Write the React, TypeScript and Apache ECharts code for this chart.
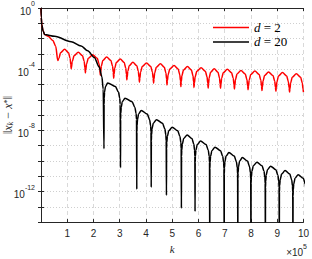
import { useEffect, useRef } from 'react';
import * as echarts from 'echarts';

// ---- data (k in units of 1e5, values as log10 exponents) ----
const xTickLabels = ['', '1', '2', '3', '4', '5', '6', '7', '8', '9', '10'];
const yLabelExponents = [0, -4, -8, -12];

// d = 2 (red)
const redHeadK = [0, 0.01, 0.03, 0.08, 0.14, 0.27, 0.45, 0.56];
const redHeadE = [0, -0.6, -1.1, -1.5, -1.74, -1.85, -2.12, -2.5];
const redDipK = [0.64, 1.15, 1.69, 2.26, 2.77, 3.27, 3.75, 4.29, 4.8, 5.33, 5.83, 6.37, 6.84, 7.37, 7.89, 8.42, 8.95, 9.47, 10.0];
const redDipE = [-3.44, -3.97, -4.25, -4.4, -4.6, -4.7, -4.85, -4.92, -5.03, -5.14, -5.2, -5.25, -5.25, -5.3, -5.35, -5.4, -5.45, -5.5, -5.5];
const redPeakK = [0.9, 1.42, 1.97, 2.5, 3.02, 3.5, 4.02, 4.55, 5.07, 5.58, 6.1, 6.6, 7.1, 7.62, 8.15, 8.67, 9.2, 9.73];
const redPeakE = [-2.7, -2.9, -3.06, -3.2, -3.33, -3.55, -3.6, -3.65, -3.76, -3.82, -3.9, -3.97, -4.01, -4.08, -4.12, -4.18, -4.22, -4.3];

// d = 20 (black)
const blackHeadK = [0, 0.01, 0.03, 0.08, 0.14, 0.52, 1.15, 1.53, 1.78, 2.03, 2.22, 2.32, 2.37];
const blackHeadE = [0, -0.6, -1.1, -1.5, -1.74, -1.85, -2.2, -2.48, -2.8, -3.23, -3.86, -4.5, -5.3];
const blackDipK = [2.4, 3.03, 3.65, 4.2, 4.78, 5.35, 5.87, 6.43, 6.98, 7.5, 8.0, 8.55, 9.08, 9.6, 10.12];
const blackDipE = [-9.2, -10.45, -11.85, -11.72, -12.25, -13.1, -13.3, -16, -16, -16, -16, -16, -16, -16, -16];
const blackPeakK = [2.54, 3.2, 3.82, 4.4, 5.0, 5.57, 6.08, 6.63, 7.16, 7.67, 8.23, 8.75, 9.3, 9.8];
const blackPeakE = [-4.9, -5.9, -6.7, -7.3, -7.8, -8.3, -8.7, -9.1, -9.45, -9.78, -10.08, -10.34, -10.63, -10.9];

// shape of one half-arch next to a dip
// (fraction of the dip-to-peak distance, decades below the peak)
const archU = [0.024, 0.06, 0.16, 0.4];
const archDrop = [1.4, 1.0, 0.6, 0.23];

function build(headK: number[], headE: number[], dipK: number[], dipE: number[], peakK: number[], peakE: number[]) {
  const pts: [number, number][] = [];
  headK.forEach((k, i) => pts.push([k, Math.pow(10, headE[i])]));
  for (let i = 0; i < dipK.length; i++) {
    pts.push([dipK[i], Math.pow(10, dipE[i])]);
    if (i < dipK.length - 1) {
      const a = dipK[i];
      const b = dipK[i + 1];
      const pk = peakK[i];
      const p = peakE[i];
      for (let j = 0; j < archU.length; j++) {
        const e = p - archDrop[j];
        if (e > dipE[i] + 0.1) pts.push([a + archU[j] * (pk - a), Math.pow(10, e)]);
      }
      pts.push([pk, Math.pow(10, p)]);
      for (let j = archU.length - 1; j >= 0; j--) {
        const e = p - archDrop[j];
        if (e > dipE[i + 1] + 0.1) pts.push([b - archU[j] * (b - pk), Math.pow(10, e)]);
      }
    }
  }
  return pts;
}

const redData = build(redHeadK, redHeadE, redDipK, redDipE, redPeakK, redPeakE);
const blackData = build(blackHeadK, blackHeadE, blackDipK, blackDipE, blackPeakK, blackPeakE);

const SANS = "'Liberation Sans', Arial, Helvetica, sans-serif";
const SERIF = "'Liberation Serif', 'DejaVu Serif', 'Times New Roman', serif";
const AX = '#262626';

export default function App() {
  const ref = useRef<HTMLDivElement>(null);
  useEffect(() => {
    const chart = echarts.init(ref.current!, null, { renderer: 'svg' });
    const option: any = {
      animation: false,
      backgroundColor: '#fff',
      grid: { left: 41, right: 7, top: 6, bottom: 34 },
      legend: {
        data: [
          { name: 'd = 2', icon: 'rect' },
          { name: 'd = 20', icon: 'rect' },
        ],
        orient: 'vertical',
        left: 213,
        top: 21,
        padding: 0,
        itemWidth: 36,
        itemHeight: 1.5,
        itemGap: 1.4,
        itemTextGap: 4,
        formatter: (n: string) => '{i|d}{n|' + n.slice(1) + '}',
        textStyle: {
          color: '#000',
          rich: {
            i: { fontFamily: SERIF, fontStyle: 'italic', fontSize: 13, lineHeight: 13, color: '#000' },
            n: { fontFamily: SERIF, fontSize: 13, lineHeight: 13, color: '#000' },
          },
        },
      },
      xAxis: [
        {
          type: 'value',
          min: 0,
          max: 10,
          interval: 1,
          name: 'k',
          nameLocation: 'middle',
          nameGap: 18,
          nameTextStyle: { fontFamily: SERIF, fontStyle: 'italic', fontSize: 11, color: AX },
          axisLine: { show: true, lineStyle: { color: AX, width: 1 } },
          axisTick: { show: true, inside: true, length: 3, lineStyle: { color: AX } },
          axisLabel: {
            margin: 6,
            fontFamily: SANS,
            fontSize: 10,
            color: AX,
            formatter: (v: number) => xTickLabels[Math.round(v)] ?? '',
          },
          splitLine: { show: true, lineStyle: { color: '#d9d9d9', type: [4, 3], width: 1 } },
        },
        {
          type: 'value',
          position: 'top',
          min: 0,
          max: 10,
          interval: 1,
          axisLine: { show: true, lineStyle: { color: AX, width: 1 } },
          axisTick: { show: true, inside: true, length: 3, lineStyle: { color: AX } },
          axisLabel: { show: false },
          splitLine: { show: false },
        },
      ],
      yAxis: [
        {
          type: 'log',
          logBase: 10,
          min: 1e-14,
          max: 1,
          interval: 1,
          axisLine: { show: true, lineStyle: { color: AX, width: 1 } },
          axisTick: { show: true, inside: true, length: 3, lineStyle: { color: AX } },
          axisLabel: {
            margin: 6,
            color: AX,
            formatter: (v: number) => {
              const e = Math.round(Math.log10(v));
              return yLabelExponents.includes(e) ? '{b|10}{e|' + (e === 0 ? '0' : '-' + -e) + '}' : '';
            },
            rich: {
              b: { fontFamily: SANS, fontSize: 10, color: AX, lineHeight: 16, verticalAlign: 'bottom' },
              e: { fontFamily: SANS, fontSize: 7, color: AX, lineHeight: 8, verticalAlign: 'top' },
            },
          },
          splitLine: { show: true, lineStyle: { color: '#cfcfcf', type: [1, 2], width: 1 } },
        },
        {
          type: 'log',
          logBase: 10,
          min: 1e-14,
          max: 1,
          interval: 1,
          position: 'right',
          axisLine: { show: true, lineStyle: { color: AX, width: 1 } },
          axisTick: { show: true, inside: true, length: 3, lineStyle: { color: AX } },
          axisLabel: { show: false },
          splitLine: { show: false },
        },
      ],
      graphic: [
        {
          type: 'text',
          x: 8,
          y: 115,
          rotation: Math.PI / 2,
          style: {
            text: '{n|‖}{i|x}{s|k}{n| − }{i|x}{p|*}{n|‖}',
            align: 'center',
            verticalAlign: 'middle',
            rich: {
              n: { fontFamily: SERIF, fontSize: 12, fill: AX, lineHeight: 12 },
              i: { fontFamily: SERIF, fontStyle: 'italic', fontSize: 12, fill: AX, lineHeight: 12 },
              s: { fontFamily: SERIF, fontStyle: 'italic', fontSize: 8.5, fill: AX, verticalAlign: 'bottom', lineHeight: 8 },
              p: { fontFamily: SERIF, fontSize: 8.5, fill: AX, verticalAlign: 'top', lineHeight: 8 },
            },
          },
        },
        {
          type: 'text',
          right: 5,
          top: 243,
          style: {
            text: '{n|×10}{p|5}',
            rich: {
              n: { fontFamily: SANS, fontSize: 10, fill: AX, lineHeight: 14, verticalAlign: 'bottom' },
              p: { fontFamily: SANS, fontSize: 7, fill: AX, lineHeight: 6, verticalAlign: 'top' },
            },
          },
        },
      ],
      series: [
        {
          name: 'd = 2',
          type: 'line',
          data: redData,
          symbol: 'none',
          smooth: 0.3,
          smoothMonotone: 'x',
          z: 2,
          lineStyle: { color: '#ff0000', width: 1.5 },
          itemStyle: { color: '#ff0000' },
          markLine: {
            z: 1,
            silent: true,
            symbol: 'none',
            label: { show: false },
            lineStyle: { color: '#d9d9d9', type: [4, 3], width: 1 },
            data: yLabelExponents.slice(1).map((e) => ({ yAxis: Math.pow(10, e) })),
          },
        },
        {
          name: 'd = 20',
          type: 'line',
          data: blackData,
          symbol: 'none',
          smooth: 0.3,
          smoothMonotone: 'x',
          z: 3,
          lineStyle: { color: '#000000', width: 1.5 },
          itemStyle: { color: '#000000' },
        },
      ],
    };
    chart.setOption(option);
    return () => chart.dispose();
  }, []);
  return <div ref={ref} style={{ position: 'fixed', left: 0, top: 0, width: 312, height: 259 }} />;
}
